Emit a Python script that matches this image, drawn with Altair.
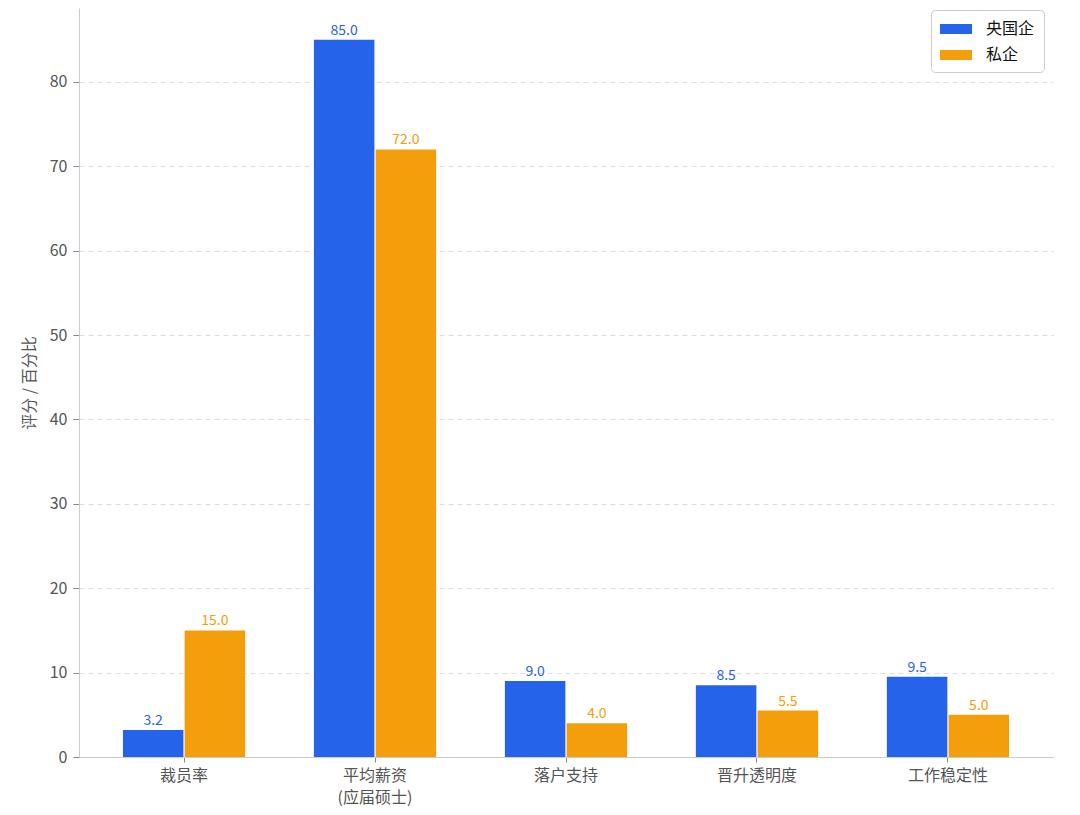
import altair as alt
import pandas as pd

categories = ["裁员率", "平均薪资\n(应届硕士)", "落户支持", "晋升透明度", "工作稳定性"]
series = ["央国企", "私企"]
soe_values = [3.2, 85.0, 9.0, 8.5, 9.5]
private_values = [15.0, 72.0, 4.0, 5.5, 5.0]
colors = ["#2563EB", "#F59E0B"]

rows = []
for c, a, b in zip(categories, soe_values, private_values):
    rows.append({"category": c, "series": series[0], "value": a, "label": f"{a:.1f}"})
    rows.append({"category": c, "series": series[1], "value": b, "label": f"{b:.1f}"})
df = pd.DataFrame(rows)

FONT = "Noto Sans CJK SC"

x = alt.X("category:N", sort=categories, title=None,
          scale=alt.Scale(paddingInner=0.36, paddingOuter=0.23),
          axis=alt.Axis(labelExpr="split(datum.label, '\\n')", labelAngle=0,
                        labelFontSize=16, labelColor="#555555", labelFont=FONT,
                        labelPadding=5, tickColor="#888888", tickSize=5,
                        domainColor="#cccccc", labelLineHeight=22))
xo = alt.XOffset("series:N", sort=series, scale=alt.Scale(paddingInner=0.02))
y = alt.Y("value:Q", title="评分 / 百分比",
          scale=alt.Scale(domain=[0, 88.77], nice=False, zero=True),
          axis=alt.Axis(values=[0, 10, 20, 30, 40, 50, 60, 70, 80],
                        labelFontSize=16, labelColor="#555555", labelFont=FONT,
                        labelPadding=6,
                        titleFont=FONT, titleFontSize=16, titleColor="#555555",
                        titleFontWeight="normal", titlePadding=12,
                        tickColor="#888888", tickSize=6, domainColor="#cccccc",
                        gridDash=[5, 4], gridColor="#dddddd", gridWidth=1))
color = alt.Color("series:N", sort=series,
                  scale=alt.Scale(domain=series, range=colors),
                  legend=alt.Legend(title=None, orient="none", legendX=852, legendY=2,
                                    labelFont=FONT, labelFontSize=16, labelColor="#111111",
                                    symbolType="M-1,-0.5L2.2,-0.5L2.2,0.5L-1,0.5Z",
                                    symbolSize=400, symbolStrokeWidth=0,
                                    rowPadding=8, labelOffset=26,
                                    padding=9, strokeColor="#cccccc", cornerRadius=4,
                                    fillColor="white"))

base = alt.Chart(df)
bars = base.mark_bar().encode(x=x, xOffset=xo, y=y, color=color)
text = base.mark_text(dy=-9, fontSize=14, font=FONT).encode(
    x=x, xOffset=xo, y="value:Q", text="label:N",
    color=alt.Color("series:N", sort=series, scale=alt.Scale(domain=series, range=colors), legend=None))

chart = (bars + text).properties(width=974, height=749, padding={"left": 13, "top": 0, "right": 5, "bottom": 5}).configure_view(stroke=None).configure_axis(grid=False).configure_axisY(grid=True)

chart.save("out.html", embed_options={"renderer": "svg", "actions": False})
